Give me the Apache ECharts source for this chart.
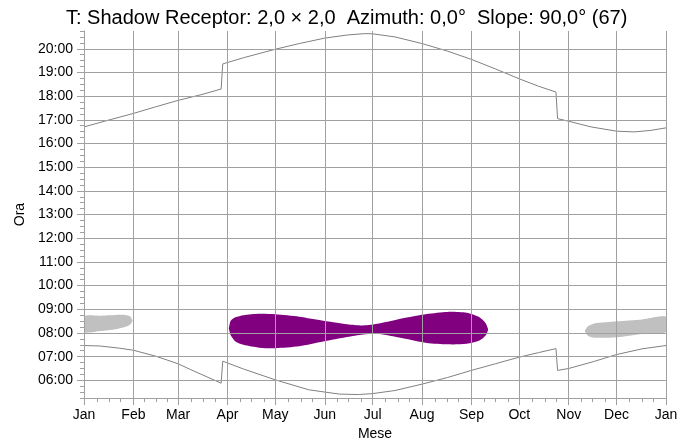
<!DOCTYPE html>
<html>
<head>
<meta charset="utf-8">
<script src="https://cdn.jsdelivr.net/npm/echarts@6/dist/echarts.min.js"></script>
<style>
html,body{margin:0;padding:0;background:#fff}
#chart{width:695px;height:446px}
</style>
</head>
<body>
<div id="chart"></div>
<script>
// asse X: giorni dell'anno, etichette ai primi del mese
var monthNames = ['Jan','Feb','Mar','Apr','May','Jun','Jul','Aug','Sep','Oct','Nov','Dec','Jan'];
var monthStarts = [0,31,59,90,120,151,181,212,243,273,304,334,365];

// tramonto [giorno, ora]
var sunsetLine = [
    [0,16.70],[15,16.98],[31,17.27],[45,17.55],[59,17.82],[74,18.07],[86,18.30],
    [87,19.36],[100,19.62],[120,19.98],[135,20.22],[151,20.45],[165,20.58],[176,20.64],[181,20.63],
    [195,20.50],[212,20.22],[228,19.90],[243,19.55],[258,19.15],[273,18.73],[285,18.42],[296,18.17],
    [297,17.05],[304,16.94],[318,16.70],[334,16.52],[345,16.49],[355,16.55],[365,16.66]
];
// alba [giorno, ora]
var sunriseLine = [
    [0,7.47],[10,7.45],[22,7.36],[31,7.27],[45,7.02],[59,6.70],[67,6.45],[74,6.24],[86,5.88],
    [87,6.81],[100,6.48],[120,6.02],[141,5.60],[160,5.42],[172,5.40],[181,5.44],[195,5.57],
    [212,5.84],[228,6.12],[243,6.42],[258,6.70],[273,6.98],[285,7.17],[296,7.34],
    [297,6.42],[304,6.50],[320,6.80],[334,7.09],[350,7.33],[365,7.47]
];
// ombra [giorno, ora inizio, ora fine]
var shadowApr = [
    [90.8,8.20,8.20],[92,7.90,8.52],[95,7.64,8.66],[100,7.50,8.75],[110,7.38,8.81],
    [120,7.36,8.79],[135,7.44,8.69],[150,7.64,8.52],[165,7.83,8.37],[175,7.94,8.32],
    [185,7.96,8.40],[200,7.78,8.62],[215,7.58,8.80],[228,7.52,8.89],[240,7.54,8.85],
    [248,7.68,8.66],[252,7.90,8.40],[253.5,8.15,8.15]
];
var shadowJan = [
    [0,8.04,8.70],[10,8.08,8.73],[20,8.16,8.76],[26,8.26,8.76],[29,8.36,8.70],[30.5,8.52,8.52]
];
var shadowDec = [
    [314,8.08,8.08],[316,7.88,8.28],[320,7.80,8.40],[334,7.82,8.49],[350,7.96,8.57],[365,8.04,8.68]
];
var shadowRegions = [shadowJan, shadowApr, shadowDec];
var shadowColors = ['#c0c0c0', '#800080', '#c0c0c0'];

// categorie per tacche ed etichette
var dayCats = [];
for (var d = 0; d <= 365; d++) dayCats.push(String(d));
var hourCats = [];
for (var q = 0; q <= 62; q++) hourCats.push(String(5.25 + q * 0.25));

var minorDays = {};
for (var m = 0; m < 12; m++) {
    var len = monthStarts[m + 1] - monthStarts[m];
    for (var k = 0; k < 4; k++) minorDays[monthStarts[m] + Math.round(len * k / 4)] = true;
}
minorDays[365] = true;

function isMonthStart(i) { return monthStarts.indexOf(i) !== -1; }
function isHour(i) { return i % 4 === 3; }

var gridColor = '#a0a0a0';
var font = 'Liberation Sans, Arial, sans-serif';

var myChart = echarts.init(document.getElementById('chart'));
var option = {
    animation: false,
    title: {
        text: 'T: Shadow Receptor: 2,0 × 2,0  Azimuth: 0,0°  Slope: 90,0° (67)',
        left: 61,
        top: 3,
        textStyle: { fontSize: 20, fontWeight: 'normal', color: '#000', fontFamily: font }
    },
    grid: { left: 84, right: 29, top: 31, bottom: 46 },
    xAxis: [
        { type: 'value', min: 0, max: 365, show: false },
        {
            type: 'category', data: dayCats, boundaryGap: false, position: 'bottom', z: 5,
            name: 'Mese', nameLocation: 'middle', nameGap: 26,
            nameTextStyle: { fontSize: 14, color: '#000', fontFamily: font },
            axisLine: { lineStyle: { color: gridColor } },
            axisTick: { interval: function (i) { return !!minorDays[i]; }, length: 4, lineStyle: { color: gridColor } },
            axisLabel: {
                interval: function (i) { return isMonthStart(i); },
                formatter: function (v, i) { return monthNames[monthStarts.indexOf(+v)]; },
                margin: 10, fontSize: 14, color: '#000', fontFamily: font
            },
            splitLine: { show: true, interval: function (i) { return isMonthStart(i); }, lineStyle: { color: gridColor } }
        },
        {
            type: 'category', data: dayCats, boundaryGap: false, position: 'bottom', z: 5,
            axisLine: { show: false },
            axisTick: { interval: function (i) { return isMonthStart(i); }, length: 7, lineStyle: { color: gridColor } },
            axisLabel: { show: false },
            splitLine: { show: false }
        }
    ],
    yAxis: [
        { type: 'value', min: 5.25, max: 20.75, show: false },
        {
            type: 'category', data: hourCats, boundaryGap: false, position: 'left', z: 5,
            name: 'Ora', nameLocation: 'middle', nameGap: 57,
            nameTextStyle: { fontSize: 14, color: '#000', fontFamily: font },
            axisLine: { lineStyle: { color: gridColor } },
            axisTick: { interval: 0, length: 4, lineStyle: { color: gridColor } },
            axisLabel: {
                interval: function (i) { return isHour(i); },
                formatter: function (v) { var h = Math.round(+v); return (h < 10 ? '0' : '') + h + ':00'; },
                margin: 11, fontSize: 14, color: '#000', fontFamily: font
            },
            splitLine: { show: true, interval: function (i) { return isHour(i); }, lineStyle: { color: gridColor } }
        },
        {
            type: 'category', data: hourCats, boundaryGap: false, position: 'left', z: 5,
            axisLine: { show: false },
            axisTick: { interval: function (i) { return isHour(i); }, length: 7, lineStyle: { color: gridColor } },
            axisLabel: { show: false },
            splitLine: { show: false }
        }
    ],
    series: [
        {
            type: 'custom', xAxisIndex: 0, yAxisIndex: 0, clip: true,
            data: shadowRegions.map(function (r) { return [r[0][0], r[0][1]]; }),
            renderItem: function (params, api) {
                var r = shadowRegions[params.dataIndex];
                var pts = [];
                for (var i = 0; i < r.length; i++) pts.push(api.coord([r[i][0], r[i][2]]));
                for (var j = r.length - 1; j >= 0; j--) pts.push(api.coord([r[j][0], r[j][1]]));
                return { type: 'polygon', shape: { points: pts, smooth: 0.25 }, style: { fill: shadowColors[params.dataIndex] } };
            }
        },
        {
            name: 'sunset', type: 'line', xAxisIndex: 0, yAxisIndex: 0, data: sunsetLine,
            showSymbol: false, lineStyle: { color: '#808080', width: 1 }
        },
        {
            name: 'sunrise', type: 'line', xAxisIndex: 0, yAxisIndex: 0, data: sunriseLine,
            showSymbol: false, lineStyle: { color: '#808080', width: 1 }
        }
    ]
};
myChart.setOption(option);
</script>
</body>
</html>
